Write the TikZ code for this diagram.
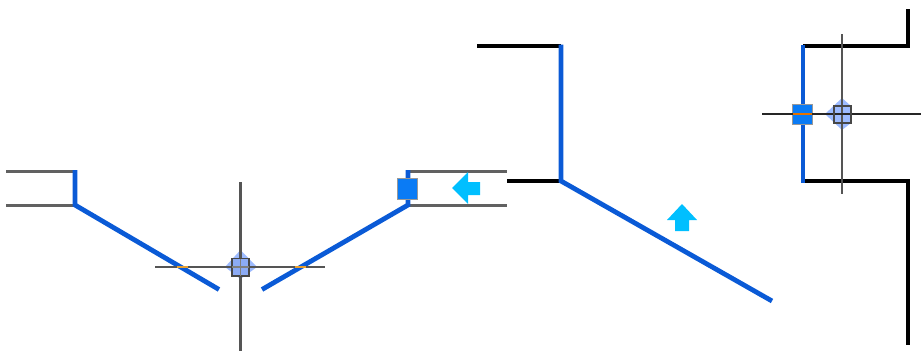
\documentclass[tikz,border=0pt]{standalone}
\definecolor{wallblue}{HTML}{0A5AD6}
\definecolor{gripblue}{HTML}{0A7BF5}
\definecolor{flipcyan}{HTML}{00BFFF}
\definecolor{cursorgrey}{HTML}{555555}
\definecolor{snaporange}{HTML}{E8A030}
\definecolor{pickblue}{HTML}{9DBBFF}
\definecolor{pickfill}{HTML}{8CABF5}
\tikzset{
	wallline/.style = {line width = 4.8pt, wallblue},
	blackline/.style = {line width = 4.4pt, black},
	greyline/.style = {line width = 3pt, black!62},
	cursorline/.style = {line width = 2.2pt, cursorgrey},
	snapline/.style = {line width = 1.5pt, snaporange},
	grip/.style = {fill = gripblue, draw = black!40, line width = 1.4pt},
	flip/.style = {fill = flipcyan, draw = none},
	pickbox/.style = {draw = black!72, line width = 1.6pt, fill = pickfill}
}
\begin{document}
\begin{tikzpicture}[x=1pt, y=-1pt]
	\useasboundingbox (0, 0) rectangle (921, 351);
	% Linkes Bild
	\begin{scope}
		\draw [greyline] (6, 171.5) -- (75, 171.5);
		\draw [greyline] (6, 205) -- (75, 205);
		\draw [greyline] (408, 171.5) -- (507, 171.5);
		\draw [greyline] (408, 205) -- (507, 205);
		\draw [wallline] (75, 170) -- (75, 205) -- (219, 289.5);
		\draw [wallline] (262, 289.5) -- (408, 205) -- (408, 170);
		\draw [grip] (397.5, 178.5) rectangle (417.5, 199.5);
		\fill [flip] (452, 188) -- (468, 172) -- (468, 182) -- (480, 182) -- (480, 195) -- (468, 195) -- (468, 204) -- cycle;
		% Fadenkreuz
		\fill [pickblue] (225, 267) -- (240.5, 250) -- (257, 267) -- (240.5, 279) -- cycle;
		\draw [cursorline] (240.5, 182) -- (240.5, 351);
		\draw [cursorline] (155, 267) -- (325, 267);
		\draw [snapline] (177, 267) -- (188, 267);
		\draw [snapline] (295, 267) -- (306, 267);
		\draw [pickbox] (232, 258.5) rectangle (249, 276);
		\draw [line width = 1.2pt, black!50] (240.5, 258.5) -- (240.5, 276);
		\draw [line width = 1.2pt, black!50] (232, 267) -- (249, 267);
	\end{scope}
	% Rechtes Bild
	\begin{scope}
		\draw [blackline] (477, 46) -- (561, 46);
		\draw [blackline] (507, 181) -- (561, 181);
		\draw [wallline] (561, 44.5) -- (561, 181) -- (772, 301);
		\fill [flip] (682, 204) -- (697, 220) -- (689, 220) -- (689, 231) -- (675, 231) -- (675, 220) -- (667, 220) -- cycle;
	\end{scope}
	% Rechter Kasten
	\begin{scope}
		\draw [blackline] (803, 46) -- (908, 46) -- (908, 9);
		\draw [blackline] (803, 181) -- (908, 181) -- (908, 345);
		\draw [wallline] (803, 44.5) -- (803, 182.5);
		\draw [grip] (792.5, 104.5) rectangle (812.5, 124.5);
		% Fadenkreuz
		\fill [pickblue] (825, 114) -- (842, 98) -- (851, 106) -- (851, 123) -- (842, 130) -- cycle;
		\draw [line width = 2pt, cursorgrey] (842, 34) -- (842, 194);
		\draw [line width = 1.6pt, black!85] (762, 114) -- (921, 114);
		\draw [line width = 1.4pt, orange!90!black] (793, 114) -- (812, 114);
		\draw [pickbox, fill = none] (834, 106) rectangle (851, 123);
	\end{scope}
\end{tikzpicture}
\end{document}
